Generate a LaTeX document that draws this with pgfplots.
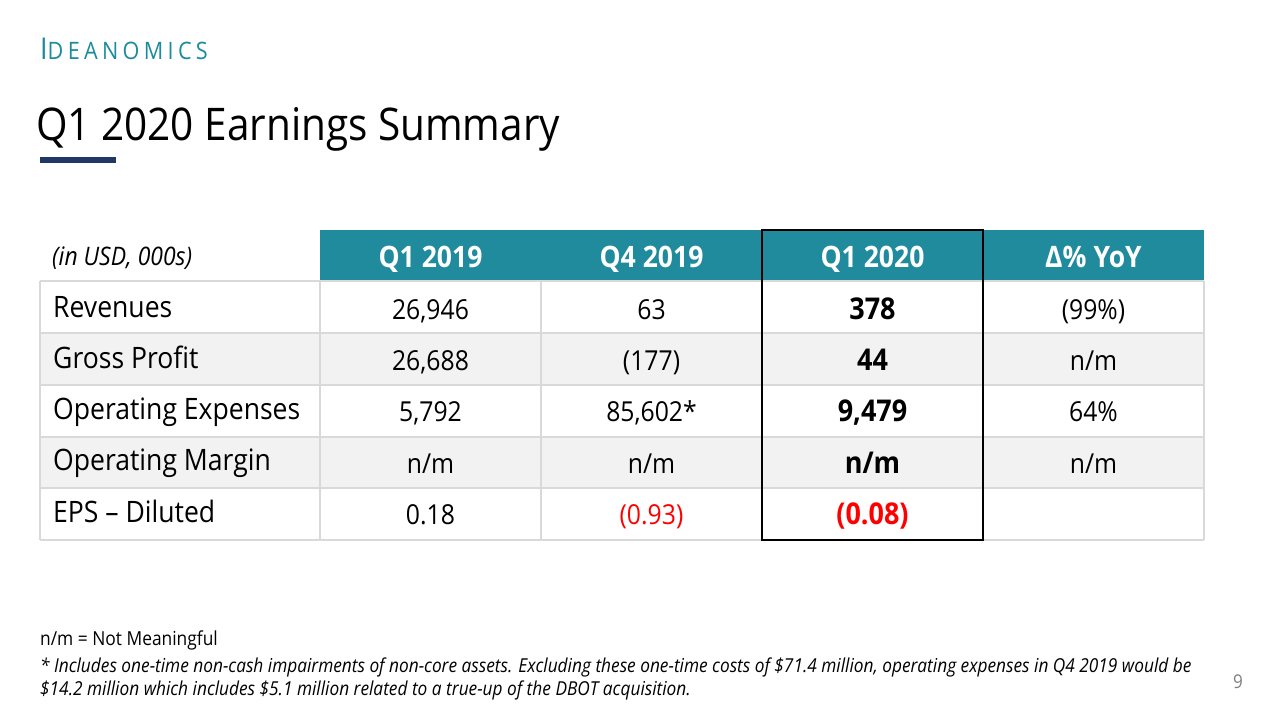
\documentclass[border=0pt]{standalone}
\usepackage{fontspec}
\setmainfont{Open Sans}[FakeStretch=0.9]
\usepackage{pgfplots}
\pgfplotsset{compat=1.18}
\definecolor{hdrteal}{HTML}{1F8B9D}
\definecolor{logoteal}{HTML}{1B8C9C}
\definecolor{barblue}{HTML}{1F3864}
\definecolor{rowgray}{HTML}{F2F2F2}
\definecolor{linegray}{HTML}{D9D9D9}
\definecolor{negred}{HTML}{FF0000}
\definecolor{pagegray}{HTML}{7F7F7F}
\newcommand\fs[1]{\fontsize{#1}{#1}\selectfont}
\tikzset{lab/.style={anchor=base west,inner sep=0pt,font=\fs{29.5}},
  val/.style={anchor=base,inner sep=0pt,font=\fs{27.5}},
  bval/.style={anchor=base,inner sep=0pt,font=\fs{30}\bfseries},
  hdr/.style={anchor=base,inner sep=0pt,text=white,font=\fs{29.5}\bfseries}}
\begin{document}
\begin{tikzpicture}
\begin{axis}[width=1280pt,height=720pt,scale only axis,
  xmin=0,xmax=1280,ymin=0,ymax=720,y dir=reverse,
  hide axis,clip=false]
% background
\fill[white] (axis cs:0,0) rectangle (axis cs:1280,720);
% logo
\node[anchor=base west,text=logoteal,inner sep=0pt] at (axis cs:40,59)
  {\addfontfeature{LetterSpace=18}\fs{30}I\fs{24}DEANOMICS};
% title
\node[anchor=base west,inner sep=0pt] at (axis cs:36,140) {\fs{45}Q1 2020 Earnings Summary};
\fill[barblue] (axis cs:40,157) rectangle (axis cs:116,162.5);
% table backgrounds
\fill[hdrteal] (axis cs:320,230) rectangle (axis cs:1204,281);
\fill[rowgray] (axis cs:40,333) rectangle (axis cs:1204,385);
\fill[rowgray] (axis cs:40,437) rectangle (axis cs:1204,488);
% grid
\draw[linegray,line width=1.2pt] (axis cs:40,281) -- (axis cs:1204,281);
\draw[linegray,line width=1.2pt] (axis cs:40,333) -- (axis cs:1204,333);
\draw[linegray,line width=1.2pt] (axis cs:40,385) -- (axis cs:1204,385);
\draw[linegray,line width=1.2pt] (axis cs:40,437) -- (axis cs:1204,437);
\draw[linegray,line width=1.2pt] (axis cs:40,488) -- (axis cs:1204,488);
\draw[linegray,line width=1.2pt] (axis cs:40,540) -- (axis cs:1204,540);
\draw[linegray,line width=1.2pt] (axis cs:40,281) -- (axis cs:40,540);
\draw[linegray,line width=1.2pt] (axis cs:320,281) -- (axis cs:320,540);
\draw[linegray,line width=1.2pt] (axis cs:541,281) -- (axis cs:541,540);
\draw[linegray,line width=1.2pt] (axis cs:1204,281) -- (axis cs:1204,540);
\draw[black,line width=2pt] (axis cs:762,230) rectangle (axis cs:983,540);
% header
\node[anchor=base west,inner sep=0pt] at (axis cs:52,265) {\fs{25.5}\itshape (in USD, 000s)};
\node[hdr] at (axis cs:430.5,267) {Q1 2019};
\node[hdr] at (axis cs:651.5,267) {Q4 2019};
\node[hdr] at (axis cs:872.5,267) {Q1 2020};
\node[hdr] at (axis cs:1093.5,267) {Δ\% YoY};
% row labels
\node[lab] at (axis cs:53,317) {Revenues};
\node[lab] at (axis cs:53,368) {Gross Profit};
\node[lab] at (axis cs:53,419) {Operating Expenses};
\node[lab] at (axis cs:53,470) {Operating Margin};
\node[lab] at (axis cs:53,522) {EPS – Diluted};
% values: Q1 2019
\node[val] at (axis cs:430.5,319) {26,946};
\node[val] at (axis cs:430.5,370) {26,688};
\node[val] at (axis cs:430.5,421) {5,792};
\node[val] at (axis cs:430.5,473) {n/m};
\node[val] at (axis cs:430.5,524) {0.18};
% Q4 2019
\node[val] at (axis cs:651.5,319) {63};
\node[val] at (axis cs:651.5,370) {(177)};
\node[val] at (axis cs:651.5,421) {85,602*};
\node[val] at (axis cs:651.5,473) {n/m};
\node[val,text=negred] at (axis cs:651.5,524) {(0.93)};
% Q1 2020
\node[bval] at (axis cs:872.5,319) {378};
\node[bval] at (axis cs:872.5,370) {44};
\node[bval] at (axis cs:872.5,421) {9,479};
\node[bval] at (axis cs:872.5,473) {n/m};
\node[bval,text=negred] at (axis cs:872.5,524) {(0.08)};
% YoY
\node[val] at (axis cs:1093.5,319) {(99\%)};
\node[val] at (axis cs:1093.5,370) {n/m};
\node[val] at (axis cs:1093.5,421) {64\%};
\node[val] at (axis cs:1093.5,473) {n/m};
% footnotes
\node[anchor=base west,inner sep=0pt] at (axis cs:40,645) {\fs{19.3}n/m = Not Meaningful};
\node[anchor=base west,inner sep=0pt] at (axis cs:40,672) {\fs{19.2}\itshape * Includes one-time non-cash impairments of non-core assets. Excluding these one-time costs of \$71.4 million, operating expenses in Q4 2019 would be};
\node[anchor=base west,inner sep=0pt] at (axis cs:40,695) {\fs{19.2}\itshape \$14.2 million which includes \$5.1 million related to a true-up of the DBOT acquisition.};
\node[anchor=base,inner sep=0pt,text=pagegray] at (axis cs:1238,688) {\fs{19}9};
\end{axis}
\end{tikzpicture}
\end{document}
